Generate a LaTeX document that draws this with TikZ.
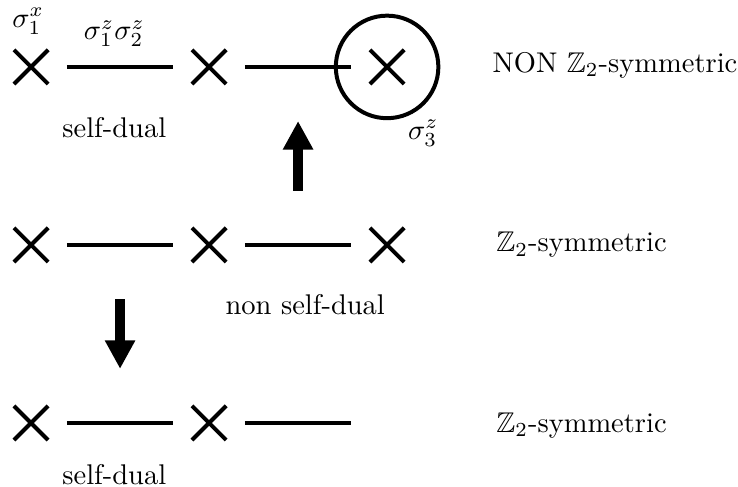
\documentclass[tikz,border=0pt]{standalone}
\usepackage{amsmath}
\usepackage{amssymb}
\usepackage{tikz}
\usetikzlibrary{shapes.misc, arrows.meta, positioning}
\tikzstyle{site} = [cross out, draw=black, line width=1.4pt, minimum size=12pt,
                    inner sep=0pt, outer sep=0pt]
\tikzstyle{ring} = [circle, draw=black, line width=1.4pt, minimum size=36pt,
                    inner sep=0pt, outer sep=0pt]
\tikzstyle{bond} = [line width=1.5pt, shorten <=6.6pt, shorten >=6.6pt]
\tikzstyle{flow} = [-{Triangle[length=10pt, width=10pt]}, line width=3.5pt,
                    shorten <=19pt, shorten >=19pt]

\begin{document}
\begin{tikzpicture}[node distance=50.5pt]
    \useasboundingbox (-10.9pt,-147.4pt) rectangle (248.2pt,23.5pt);
    % top chain
    \node (c11) [site] at (0,0) {};
    \node (c12) [site, right=of c11] {};
    \node (c13) [site, right=of c12] {};
    \node (circ) [ring] at (c13) {};
    % middle chain
    \node (c21) [site, below=of c11] {};
    \node (c22) [site, right=of c21] {};
    \node (c23) [site, right=of c22] {};
    % bottom chain
    \node (c31) [site, below=of c21] {};
    \node (c32) [site, right=of c31] {};
    \coordinate (c33) at (c32 -| c23);

    \draw[bond] (c11) -- node[above=3pt, pos=0.46] {$\sigma^z_1\sigma^z_2$}
                          node[below=13.5pt, pos=0.46] {self-dual} (c12);
    \draw[bond] (c12) -- coordinate[midway] (m12) (c13);
    \draw[bond] (c21) -- coordinate[midway] (m21) (c22);
    \draw[bond] (c22) -- coordinate[midway] (m22)
                          node[below=13.2pt, pos=0.55] {non self-dual} (c23);
    \draw[bond] (c31) -- coordinate[midway] (m31)
                          node[below=10.4pt, pos=0.46] {self-dual} (c32);
    \draw[bond, shorten >=12.6pt] (c32) -- (c33);

    \node (s1x) [above=2pt of c11, xshift=-1pt] {$\sigma^x_1$};
    \node (s3z) [below=2.5pt of circ.south east] {$\sigma^z_3$};

    \node (lab1) [right=27.5pt of c13, yshift=0.7pt] {NON $\mathbb{Z}_2$-symmetric};
    \node (lab2) [right=28.8pt of c23] {$\mathbb{Z}_2$-symmetric};
    \node (lab3) [anchor=west, yshift=-1pt] at (lab2.west |- c31) {$\mathbb{Z}_2$-symmetric};

    \draw[flow] (m22) -- (m12);
    \draw[flow] (m21) -- (m31);
\end{tikzpicture}
\end{document}
